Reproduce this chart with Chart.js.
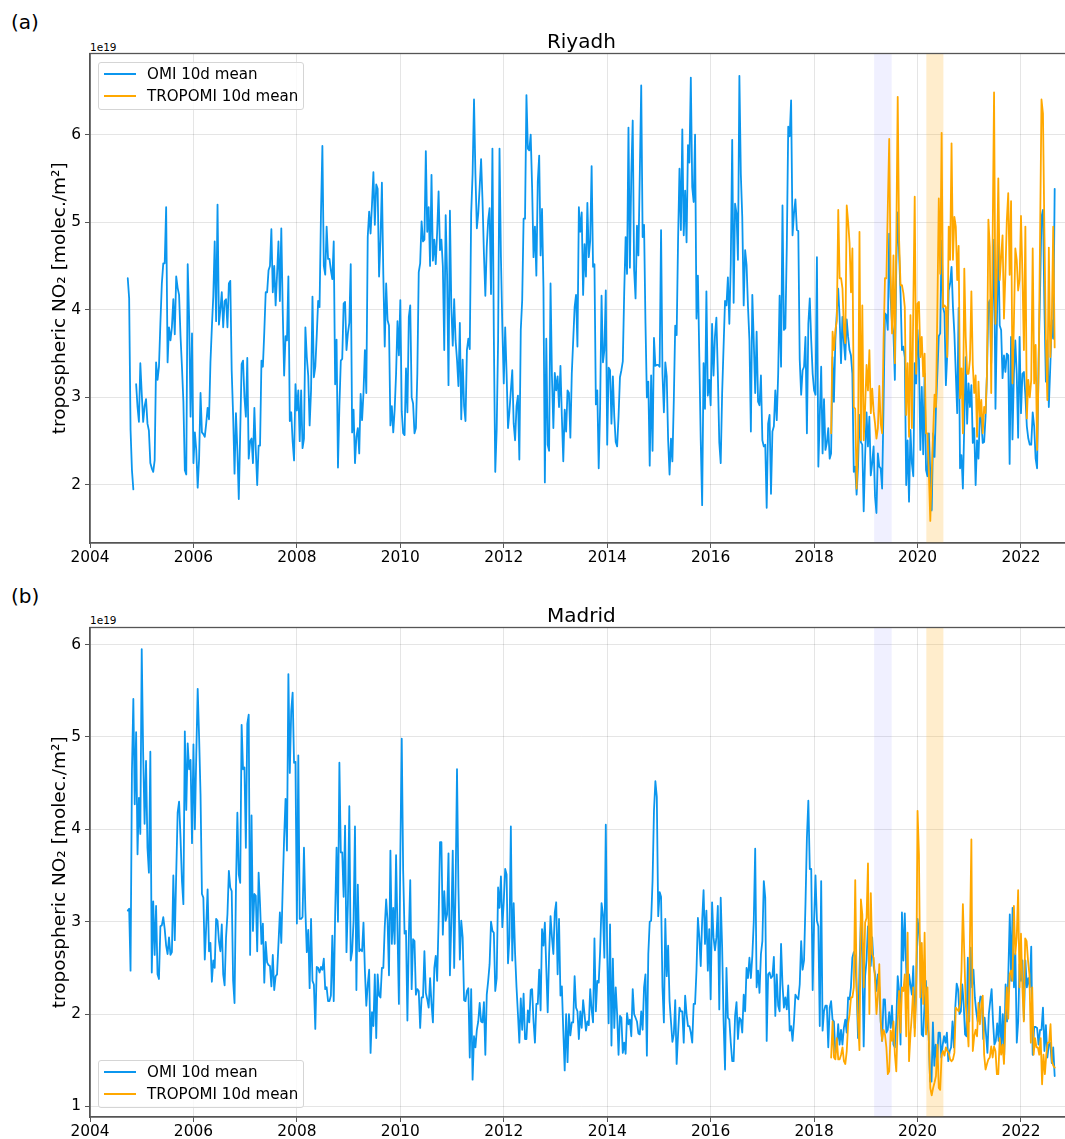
<!DOCTYPE html>
<html><head><meta charset="utf-8">
<script src="https://cdn.jsdelivr.net/npm/chart.js@4"></script>
<style>
html,body{margin:0;padding:0;background:#fff;overflow:hidden;width:1065px;height:1139px}
canvas{position:absolute;left:0}
.t{position:absolute;font-family:"DejaVu Sans";color:#000;white-space:nowrap;line-height:1}
.legend{position:absolute;left:97.5px;width:206.5px;height:48.5px;border:1px solid #d5d5d5;border-radius:3px;background:rgba(255,255,255,.8);font:15.1px "DejaVu Sans";color:#000;box-sizing:border-box;z-index:3}
.legend i{position:absolute;left:5px;width:32px;height:2px}
.legend span{position:absolute;left:48.5px;white-space:nowrap;line-height:1}
</style></head><body>
<div class="t" style="left:11px;top:12px;font-size:20px">(a)</div>
<div class="t" style="left:11px;top:586px;font-size:20px">(b)</div>
<div class="t" style="left:90px;top:42px;font-size:10.5px">1e19</div>
<div class="t" style="left:90px;top:615px;font-size:10.5px">1e19</div>
<canvas id="c1" width="1074" height="573" style="top:0"></canvas>
<canvas id="c2" width="1074" height="573" style="top:573.5px"></canvas>
<div id="l1" class="legend" style="top:61.5px"></div>
<div id="l2" class="legend" style="top:1059.5px"></div>
<script>
const seriesLabels = ['OMI 10d mean','TROPOMI 10d mean'];
const cities = ['Riyadh','Madrid'];
const yLabel = 'tropospheric NO₂ [molec./m²]';
const xTickStep = 2;
const lockdownSpans = [[2019.16,2019.5,'rgba(0,0,255,0.06)'],[2020.17,2020.5,'rgba(255,165,0,0.2)']];

// Riyadh OMI (1e19 molec/m2)
const riyadhOmi2004 = [4.36,4.13,2.63,2.17,1.95,null,3.15,2.89,2.72,3.39];
const riyadhOmi2005 = [3.05,2.72,2.9,2.98,2.7,2.62,2.25,2.19,2.15,2.28,3.4,3.2,3.35,3.85,4.3,4.53,4.53,5.17,3.4,3.8,3.65,3.8,4.12,3.72,4.38,4.25,4.17,3.7,3.35,2.95,2.17,2.12,4.52,3.9,2.78,3.73];
const riyadhOmi2006 = [2.25,2.6,2.4,1.97,2.3,3.05,2.6,2.58,2.55,2.7,2.88,2.75,3.4,3.8,4.15,4.78,3.87,5.2,3.83,4.0,4.2,3.8,4.1,4.12,3.8,4.3,4.33,3.3,2.8,2.13,2.82,2.4,1.84,2.6,3.38,3.42,3.0,2.78,3.45,2.3,2.5,2.53,2.25,2.88,2.4,2.0,2.45,2.45,3.42,3.35,3.75,4.2,4.2,4.45,4.5,4.92,4.2,4.5,4.05,4.4,4.78,4.1,4.93,4.0,3.25,3.7,3.65,4.38,2.73,2.83,2.5,2.28,3.15];
const riyadhOmi2008 = [2.85,3.08,2.5,3.08,2.42,2.53,3.8,3.46,3.25,2.68,3.08,4.15,3.23,3.35,3.7,4.1,4.03,5.1,5.87,4.5,4.4,4.95,4.58,4.58,4.45,4.35,4.78,3.15,3.66,2.2,2.9,3.42,3.44,4.07,4.09,3.54,3.73,3.85,4.52,2.6,2.86,2.25,2.55,2.65,2.36,3.04,2.74,3.05,3.54,3.05,4.83,5.12,4.87,5.2,5.57,4.97,5.43,5.38,4.38,4.8,5.45,4.4,3.58,4.3,3.88,3.82,2.68,2.9,2.6,2.86,3.27,3.87,3.48];
const riyadhOmi2010 = [4.11,2.84,2.59,2.57,3.33,2.83,3.92,4.05,3.0,2.93,2.59,2.65,3.27,4.43,4.53,5.01,4.78,4.8,5.81,4.89,5.17,4.5,5.54,4.56,4.8,4.52,4.89,5.35,4.68,4.8,4.5,3.54,5.08,4.4,3.14,5.13,4.03,3.59,4.12,3.65,3.43,3.13,3.85,2.75,3.43,2.9,2.73,3.54,3.67,3.55,5.1,5.55,6.4,5.55,4.93,5.1,5.4,5.72,5.25,4.64,4.16,4.72,5.02,5.16,4.18,5.84,3.69,2.15,2.63,3.65,5.84,4.6,3.8];
const riyadhOmi2012 = [3.16,3.8,3.27,2.65,2.84,3.08,3.31,2.7,2.51,2.9,3.02,2.29,3.77,4.11,5.04,5.04,6.45,5.84,5.82,6.0,5.4,4.6,4.95,4.39,5.46,5.76,4.62,5.15,4.26,2.03,3.67,2.46,2.39,4.3,3.24,2.65,3.28,3.08,3.24,2.89,3.36,2.78,2.27,2.86,2.61,3.08,3.05,2.54,3.27,3.65,4.03,4.17,3.58,5.17,4.89,5.11,4.17,4.75,4.38,5.22,4.6,4.79,5.64,4.49,4.52,2.92,3.08,2.19,2.89,4.16,3.4,3.54,4.22];
const riyadhOmi2014 = [2.46,3.34,3.31,2.7,3.24,2.78,2.49,2.44,2.78,3.23,3.31,3.41,4.2,4.83,4.41,6.08,4.48,5.55,6.16,4.45,4.13,4.96,4.62,5.55,6.56,4.83,4.97,3.85,3.0,3.18,2.22,3.25,2.39,3.68,3.36,3.37,3.37,3.35,4.91,3.27,2.83,3.4,3.24,2.51,2.12,2.53,2.27,2.97,3.82,3.71,4.79,5.61,4.91,6.06,4.85,5.36,4.77,5.88,5.68,6.65,5.4,5.23,6.0,3.9,4.39,3.46,2.51,1.77,3.39,2.87,4.21,3.02,3.2];
const riyadhOmi2016 = [2.91,3.84,3.25,3.7,3.91,3.27,2.49,2.25,3.05,3.58,4.1,4.05,4.37,3.84,4.52,5.94,4.08,5.21,5.1,4.57,6.67,5.55,5.06,4.05,4.68,4.51,4.03,3.65,2.61,4.17,3.65,3.05,3.75,2.95,2.91,3.25,2.51,2.44,2.46,1.74,2.7,2.8,1.9,2.61,2.67,3.08,2.74,3.27,4.16,3.35,5.19,3.77,3.79,4.72,6.09,5.98,6.39,4.85,5.1,5.26,4.91,4.9,3.43,3.03,3.31,3.35,3.69,2.59,3.84,4.13,3.65,3.27];
const riyadhOmi2018 = [3.08,3.03,4.6,2.21,2.78,3.35,2.36,2.98,2.4,2.48,2.65,2.3,2.36,3.46,2.95,3.65,3.96,4.24,3.92,3.39,3.92,3.63,3.43,3.89,3.69,3.54,3.48,3.27,2.15,2.21,1.89,2.21,2.8,2.49,2.46,1.7,2.32,2.83,2.44,2.78,2.11,2.25,2.44,1.87,1.68,2.36,2.21,2.19,1.96,2.89,3.96,3.94,3.77,4.87,4.15,3.84,3.73,3.2,4.5,5.11,4.64,4.19,3.54,3.58,3.46,2.0,2.51,1.81,2.63,2.25,2.1,3.39,3.16];
const riyadhOmi2020 = [3.77,3.43,2.4,3.12,2.35,3.27,2.17,2.1,2.59,2.13,1.71,2.59,2.32,2.87,3.27,3.7,3.73,4.79,4.03,3.96,3.14,3.5,4.22,4.3,4.49,4.03,3.73,3.27,2.82,4.02,2.19,2.34,1.96,2.7,3.46,2.7,3.16,2.89,3.14,2.48,2.65,2.0,2.51,2.3,2.82,2.74,2.48,2.49,2.78,3.27,4.07,4.11,3.39,4.1,4.8,2.87,3.84,4.79,3.82,3.77,3.22,3.48,3.29,3.5,3.48,2.24,3.69,2.52,3.27,3.65,3.27,2.54,3.69];
const riyadhOmi2022 = [2.82,3.27,3.29,3.02,2.67,2.53,2.46,2.46,2.83,2.67,2.3,2.19,3.4,4.19,5.06,5.14,4.03,3.18,3.65,2.89,3.35,3.88,3.67,5.38];
// Riyadh TROPOMI
const riyadhTropomi2018 = [2.59,3.75,3.54,3.77,3.88,5.14,4.36,4.36,4.24,3.77,3.62,5.19,5.0,4.76,4.2,4.7,2.89,2.87,1.96,2.51,4.89,2.51,4.05,2.51,2.89,3.37,3.08,3.54,2.82,3.1,2.84,2.7,2.53,2.65,3.13,2.7,2.59,3.65,4.36,4.36,5.17,5.95,4.41,3.73,4.62,3.39,4.79,6.43,4.79,4.28,4.28,4.19,4.03,2.8,3.39,2.55,3.94,2.65,4.03,5.29,3.27];
const riyadhTropomi2020 = [4.07,4.09,3.46,3.69,3.24,3.5,2.59,2.59,2.13,1.59,2.13,2.59,3.03,2.89,4.03,5.27,4.41,6.02,4.03,4.05,4.03,3.46,4.95,4.57,5.9,4.57,5.06,4.95,4.34,4.73,2.99,3.33,2.59,4.47,3.69,3.27,3.27,3.43,4.21,3.37,3.05,3.25,2.55,3.18,2.78,2.97,2.59,2.89,2.82,3.27,5.03,4.72,3.05,4.8,6.48,3.84,4.41,5.5,4.34,4.6,4.85,3.9,4.4,5.02,5.33,4.4,5.24,3.16,3.84,4.7,4.57,4.22,4.34];
const riyadhTropomi2022 = [5.07,4.4,3.54,4.95,2.76,3.2,3.0,3.2,4.7,3.16,3.6,2.4,3.27,4.8,6.4,6.24,4.87,3.65,2.97,4.71,3.46,3.84,4.95,3.57];

// Madrid OMI
const madridOmi2004 = [3.12,3.14,2.47,4.63,5.41,4.27,5.05,3.73,4.34,3.95];
const madridOmi2005 = [5.95,4.82,4.06,4.74,3.8,3.53,4.84,2.45,3.22,2.64,3.17,2.43,2.38,2.95,2.96,3.05,2.92,2.74,2.65,2.83,2.64,2.67,3.5,2.8,3.51,4.18,4.3,3.91,3.44,3.19,5.06,4.21,4.93,4.65,4.75,3.85];
const madridOmi2006 = [4.92,4.0,4.81,5.52,5.0,4.38,3.3,3.26,2.59,2.95,3.35,2.68,2.77,2.35,2.58,2.5,3.03,3.01,2.79,2.68,2.97,2.43,2.31,2.83,3.08,3.55,3.37,3.33,2.36,2.12,3.37,4.18,3.51,3.42,5.13,4.65,4.67,3.8,5.14,5.24,2.64,4.15,2.9,3.3,3.28,2.68,3.53,3.19,2.76,2.98,2.34,2.78,2.56,2.53,2.52,2.3,2.64,2.26,2.41,2.43,2.76,3.1,2.77,3.37,3.91,4.33,3.77,5.68,4.61,5.28,5.48,4.72,4.73];
const madridOmi2008 = [2.98,4.8,3.03,3.03,3.05,3.8,3.12,2.67,2.91,2.28,3.03,2.36,2.32,1.84,2.51,2.5,2.45,2.51,2.48,2.6,2.27,2.29,2.14,2.14,2.2,2.85,2.14,3.08,3.8,3.0,4.72,3.75,3.75,3.27,4.04,2.67,3.19,4.25,2.58,2.68,3.01,4.03,2.26,3.4,2.68,2.7,2.68,2.99,2.47,2.09,2.32,2.48,1.58,2.02,1.87,2.43,1.74,2.43,2.2,2.18,2.5,2.5,2.94,3.24,3.01,2.42,3.77,2.76,3.15,2.76,3.72,2.9,2.11];
const madridOmi2010 = [3.73,4.98,3.55,2.87,2.9,1.93,2.83,3.45,2.27,2.81,2.79,2.21,2.27,2.25,1.85,2.18,2.18,2.68,2.23,2.16,2.07,2.39,2.11,1.91,2.5,2.63,2.36,3.01,3.86,3.86,2.86,3.33,3.01,3.08,3.74,2.42,3.01,3.77,2.5,3.37,4.65,3.37,2.59,3.01,2.83,2.15,2.14,2.25,2.28,1.53,2.27,1.29,1.76,1.64,1.83,1.92,2.12,1.92,1.91,2.13,1.56,2.21,2.36,2.54,3.0,2.9,2.88,2.25,2.39,3.37,3.15,3.49,2.94];
const madridOmi2012 = [3.22,3.57,3.51,2.55,2.83,4.03,2.58,3.2,2.65,2.29,2.0,1.69,2.17,1.83,2.22,1.73,1.73,2.04,1.91,2.26,2.27,1.92,1.69,2.11,2.11,2.48,2.04,2.92,2.74,2.99,2.5,2.02,2.65,3.06,2.83,2.65,3.1,3.21,2.43,3.03,2.2,2.3,1.82,1.39,2.0,1.48,2.0,1.77,1.91,1.91,2.41,2.07,2.03,1.73,2.03,1.85,2.15,2.0,1.82,1.92,1.88,2.27,2.05,1.91,2.82,2.03,2.36,2.34,2.68,3.2,3.08,2.61,4.05];
const madridOmi2014 = [2.65,1.9,2.97,1.66,2.6,1.85,2.29,2.0,1.56,1.98,1.96,1.58,1.69,1.57,2.01,1.89,1.94,1.76,2.27,2.0,1.96,1.92,1.79,1.78,2.03,1.83,2.29,2.43,1.55,2.65,3.0,3.01,3.44,4.2,4.52,4.35,3.06,3.32,3.27,2.29,1.91,3.03,2.41,2.74,2.14,1.92,1.7,1.78,2.15,1.46,1.78,2.07,2.03,2.03,1.69,2.2,2.0,1.87,1.87,1.8,1.69,2.11,2.11,2.47,3.04,2.83,2.52,3.01,3.34,2.76,3.12,2.47,2.92];
const madridOmi2016 = [2.16,3.21,2.83,2.69,2.83,3.17,2.05,3.26,2.72,1.92,1.4,2.5,1.96,1.94,1.69,1.49,1.49,1.98,2.13,1.73,1.96,1.94,1.8,2.21,2.03,2.5,2.39,2.61,2.39,2.63,3.0,3.79,2.29,2.47,2.23,2.65,2.79,3.44,3.26,1.71,2.43,2.45,2.39,2.41,2.62,1.98,2.43,2.09,2.03,2.76,2.32,2.07,2.18,2.05,2.31,1.82,1.87,1.71,1.92,2.21,2.18,2.16,2.32,2.79,2.48,2.58,3.19,3.91,4.31,3.57,3.57,2.26];
const madridOmi2018 = [3.01,3.5,3.01,2.95,1.87,3.44,1.82,2.03,2.09,2.09,1.64,2.07,2.14,1.94,1.92,1.58,1.64,1.89,1.67,1.83,1.67,1.85,1.94,1.8,2.18,2.16,2.29,2.61,2.67,2.63,2.29,1.74,2.47,3.01,2.61,1.65,2.41,2.58,2.95,2.65,2.52,2.83,2.52,2.43,2.25,2.43,2.29,1.92,1.71,2.16,2.16,1.8,1.83,2.02,1.85,2.09,1.67,1.64,1.92,2.41,2.25,1.67,3.1,2.58,3.09,2.5,2.07,2.43,2.32,2.21,2.52,1.85,2.29];
const madridOmi2020 = [3.03,2.9,2.65,1.78,1.76,2.11,2.36,1.92,1.76,1.27,1.27,1.91,1.44,1.67,1.49,1.8,1.8,1.53,1.67,1.76,1.69,1.8,1.49,1.6,1.64,1.92,1.64,2.07,2.33,2.27,2.0,2.03,2.32,2.11,1.78,1.76,2.61,1.92,2.72,2.29,2.48,2.18,2.03,1.92,2.07,2.19,2.18,1.73,1.96,1.78,1.58,2.0,2.14,2.27,1.92,1.67,1.71,1.9,1.71,2.08,1.6,2.0,1.56,2.32,1.92,2.47,3.08,2.36,3.15,2.29,2.65,1.69,1.92,2.54];
const madridOmi2022 = [2.36,2.58,1.94,2.58,2.29,2.39,2.29,2.73,1.56,1.86,1.86,1.85,1.67,1.83,1.83,2.07,1.6,1.88,1.53,1.67,1.69,1.47,1.64,1.33];
// Madrid TROPOMI
const madridTropomi2018 = [1.53,1.92,1.53,1.51,1.74,1.51,1.51,1.56,1.64,1.49,1.46,1.6,1.9,2.0,2.18,2.18,2.29,3.45,2.29,1.92,1.61,3.24,3.08,2.29,2.99,3.04,3.63,2.0,3.31,2.65,2.61,2.36,2.0,2.2,2.54,1.92,1.71,1.83,1.78,1.64,1.35,1.38,1.82,1.71,1.92,1.56,1.38,1.92,2.25,1.8,2.29,2.25,2.43,1.76,2.88,1.49,1.78,2.0,2.29,1.76,2.18];
const madridTropomi2020 = [4.2,3.73,2.18,2.77,2.11,2.88,1.78,2.29,1.71,1.2,1.12,1.2,1.26,1.33,1.67,1.2,1.18,1.56,1.6,1.55,1.64,1.6,1.58,1.51,1.49,1.51,1.58,2.07,2.05,2.03,2.11,2.47,3.19,2.65,2.11,1.9,1.65,2.83,3.89,1.6,1.76,1.83,1.76,2.12,1.89,2.1,2.2,1.56,1.4,1.46,1.51,1.53,1.65,1.53,1.65,1.6,1.35,1.35,1.74,1.56,1.67,1.46,1.92,2.29,1.95,2.43,2.47,2.36,3.17,2.65,2.83,3.34,2.29];
const madridTropomi2022 = [2.87,2.29,1.92,2.82,2.79,2.58,2.43,1.69,2.29,1.56,1.74,1.64,1.64,1.56,1.74,1.24,1.56,1.35,1.56,1.69,1.69,1.89,1.49,1.44,1.42];

// Each block of values sits evenly across the period it was read from.
function spread(start, end, values) {
  return values.map((v, i) => ({ x: start + i * (end - start) / values.length, y: v }));
}
function join(blocks) { return blocks.flatMap(b => spread(b[0], b[1], b[2])); }

const riyadhOmi = join([[2004.73,2005,riyadhOmi2004],[2005,2006,riyadhOmi2005],[2006,2008,riyadhOmi2006],[2008,2010,riyadhOmi2008],[2010,2012,riyadhOmi2010],[2012,2014,riyadhOmi2012],[2014,2016,riyadhOmi2014],[2016,2018,riyadhOmi2016],[2018,2020,riyadhOmi2018],[2020,2022,riyadhOmi2020],[2022,2022.68,riyadhOmi2022]]);
const riyadhTropomi = join([[2018.33,2020,riyadhTropomi2018],[2020,2022,riyadhTropomi2020],[2022,2022.68,riyadhTropomi2022]]);
const madridOmi = join([[2004.73,2005,madridOmi2004],[2005,2006,madridOmi2005],[2006,2008,madridOmi2006],[2008,2010,madridOmi2008],[2010,2012,madridOmi2010],[2012,2014,madridOmi2012],[2014,2016,madridOmi2014],[2016,2018,madridOmi2016],[2018,2020,madridOmi2018],[2020,2022,madridOmi2020],[2022,2022.68,madridOmi2022]]);
const madridTropomi = join([[2018.33,2020,madridTropomi2018],[2020,2022,madridTropomi2020],[2022,2022.68,madridTropomi2022]]);

const BLUE = '#0b96ee', ORANGE = '#ffa800', SPINE = '#555555', GRID = 'rgba(0,0,0,0.1)';

const frame = {
  id: 'frame',
  beforeDatasetsDraw(chart) {
    const { ctx, chartArea: a, scales: { x } } = chart;
    ctx.save();
    lockdownSpans.forEach(s => {
      ctx.fillStyle = s[2];
      const l = x.getPixelForValue(s[0]), r = x.getPixelForValue(s[1]);
      ctx.fillRect(l, a.top, r - l, a.bottom - a.top);
    });
    ctx.restore();
  },
  afterDraw(chart) {
    const { ctx, chartArea: a } = chart;
    ctx.save();
    ctx.strokeStyle = SPINE; ctx.lineWidth = 1.3;
    ctx.strokeRect(a.left, a.top, a.right - a.left, a.bottom - a.top);
    ctx.restore();
  }
};

function build(id, title, omi, tropomi, yMin, yMax) {
  return new Chart(document.getElementById(id), {
    type: 'line',
    plugins: [frame],
    data: { datasets: [
      { label: seriesLabels[1], data: tropomi, borderColor: ORANGE, order: 1 },
      { label: seriesLabels[0], data: omi, borderColor: BLUE, order: 2 }
    ] },
    options: {
      responsive: false, animation: false, devicePixelRatio: 1,
      parsing: false, normalized: true,
      layout: { padding: { left: 0, right: 1.3, top: 0, bottom: 0 } },
      elements: { point: { radius: 0 }, line: { borderWidth: 1.8, tension: 0, borderJoinStyle: 'round', borderCapStyle: 'round' } },
      plugins: {
        legend: { display: false }, tooltip: { enabled: false },
        title: { display: true, text: title, fullSize: false, color: '#000',
                 font: { family: 'DejaVu Sans', size: 20, weight: 'normal', lineHeight: 1 },
                 padding: { top: 33, bottom: 0.5 } }
      },
      scales: {
        x: { type: 'linear', min: 2004, max: 2023,
             afterFit(s) { s.height = 30; },
             grid: { color: GRID, tickColor: SPINE, tickLength: 5, lineWidth: 1 },
             border: { color: SPINE, width: 1.3 },
             ticks: { stepSize: xTickStep, includeBounds: false, maxRotation: 0, autoSkip: false, color: '#000', padding: 1,
                      font: { family: 'DejaVu Sans', size: 15.4 }, callback: v => String(v) } },
        y: { min: yMin, max: yMax,
             afterFit(s) { s.width = 90; },
             grid: { color: GRID, tickColor: SPINE, tickLength: 5, lineWidth: 1 },
             border: { color: SPINE, width: 1.3 },
             title: { display: true, text: yLabel, color: '#000', padding: { top: 49, bottom: 0 },
                      font: { family: 'DejaVu Sans', size: 18.5, weight: 'normal', lineHeight: 1.2 } },
             ticks: { stepSize: 1, includeBounds: false, color: '#000', padding: 4,
                      font: { family: 'DejaVu Sans', size: 15.4 }, callback: v => String(v) } }
      }
    }
  });
}
build('c1', cities[0], riyadhOmi, riyadhTropomi, 1.338, 6.925);
build('c2', cities[1], madridOmi, madridTropomi, 0.886, 6.184);

['l1','l2'].forEach(id => {
  const el = document.getElementById(id);
  [BLUE, ORANGE].forEach((c, i) => {
    const line = document.createElement('i');
    line.style.background = c; line.style.top = (10.5 + i * 22.3) + 'px';
    const text = document.createElement('span');
    text.textContent = seriesLabels[i]; text.style.top = (4 + i * 22.3) + 'px';
    el.append(line, text);
  });
});
</script>
</body></html>
